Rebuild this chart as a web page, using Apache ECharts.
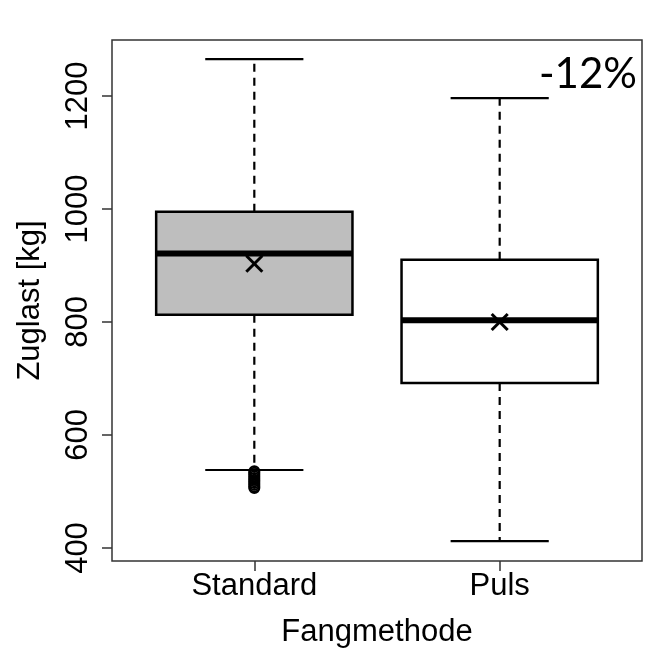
<!DOCTYPE html>
<html>
<head>
<meta charset="utf-8">
<script src="https://cdn.jsdelivr.net/npm/echarts@6/dist/echarts.min.js"></script>
<style>
  html, body { margin: 0; padding: 0; background: #fff; }
  #chart { width: 647px; height: 654px; }
</style>
</head>
<body>
<div id="chart"></div>
<script>
  // Zuglast je Fangmethode
  const categories = ['Standard', 'Puls'];
  const whiskerLow = [538, 412];
  const q1 = [813, 692];
  const median = [921, 803];
  const q3 = [995, 910];
  const whiskerHigh = [1265, 1196];
  const means = [903, 800];
  const boxFill = ['#bebebe', '#ffffff'];
  const outliersStandard = [536, 533, 530, 527, 524, 521, 518, 515, 512, 509, 506];
  const yTicks = [400, 600, 800, 1000, 1200];

  const chart = echarts.init(document.getElementById('chart'));
  const font = 'Liberation Sans';

  const boxData = categories.map((c, i) => [i + 1, whiskerLow[i], q1[i], median[i], q3[i], whiskerHigh[i], means[i]]);

  function renderBox(params, api) {
    const x = api.value(0);
    const lo = api.coord([x, api.value(1)]);
    const b1 = api.coord([x, api.value(2)]);
    const md = api.coord([x, api.value(3)]);
    const b3 = api.coord([x, api.value(4)]);
    const hi = api.coord([x, api.value(5)]);
    const mn = api.coord([x, api.value(6)]);
    const half = api.size([0.4, 0])[0];
    const cap = api.size([0.2, 0])[0];
    const cx = lo[0];
    const dash = { stroke: '#000', lineWidth: 2.2, lineDash: [8, 6] };
    const solid = { stroke: '#000', lineWidth: 2.2 };
    const m = 8;
    return {
      type: 'group',
      children: [
        { type: 'line', shape: { x1: cx, y1: b3[1], x2: cx, y2: hi[1] }, style: dash },
        { type: 'line', shape: { x1: cx, y1: b1[1], x2: cx, y2: lo[1] }, style: dash },
        { type: 'line', shape: { x1: cx - cap, y1: hi[1], x2: cx + cap, y2: hi[1] }, style: solid },
        { type: 'line', shape: { x1: cx - cap, y1: lo[1], x2: cx + cap, y2: lo[1] }, style: solid },
        {
          type: 'rect',
          shape: { x: cx - half, y: b3[1], width: half * 2, height: b1[1] - b3[1] },
          style: { fill: boxFill[params.dataIndex], stroke: '#000', lineWidth: 2.5 }
        },
        { type: 'line', shape: { x1: cx - half, y1: md[1], x2: cx + half, y2: md[1] }, style: { stroke: '#000', lineWidth: 6 } },
        { type: 'line', shape: { x1: cx - m, y1: mn[1] - m, x2: cx + m, y2: mn[1] + m }, style: { stroke: '#000', lineWidth: 3 } },
        { type: 'line', shape: { x1: cx - m, y1: mn[1] + m, x2: cx + m, y2: mn[1] - m }, style: { stroke: '#000', lineWidth: 3 } }
      ]
    };
  }

  const option = {
    animation: false,
    backgroundColor: '#fff',
    title: {
      text: '-12%',
      right: 10,
      top: 53,
      padding: 0,
      textStyle: { fontFamily: 'Lato', fontSize: 42, fontWeight: 'normal', color: '#000' }
    },
    grid: {
      left: 112, right: 5, top: 40, bottom: 93,
      show: true, borderColor: '#333', borderWidth: 1.5, backgroundColor: 'transparent'
    },
    xAxis: {
      type: 'value',
      min: 0.42,
      max: 2.58,
      name: 'Fangmethode',
      nameLocation: 'middle',
      nameGap: 56,
      nameTextStyle: { fontFamily: font, fontSize: 31, color: '#000' },
      axisLine: { show: false },
      splitLine: { show: false },
      axisTick: { show: true, length: 10, customValues: [1, 2], lineStyle: { color: '#333', width: 1.5 } },
      axisLabel: {
        customValues: [1, 2],
        margin: 10,
        fontFamily: font, fontSize: 31, color: '#000',
        formatter: v => categories[Math.round(v) - 1] || ''
      }
    },
    yAxis: {
      type: 'value',
      min: 377,
      max: 1299,
      name: 'Zuglast [kg]',
      nameLocation: 'middle',
      nameGap: 66,
      nameRotate: 90,
      nameTextStyle: { fontFamily: font, fontSize: 31, color: '#000' },
      axisLine: { show: false },
      splitLine: { show: false },
      axisTick: { show: true, length: 10, customValues: yTicks, lineStyle: { color: '#333', width: 1.5 } },
      axisLabel: {
        customValues: yTicks,
        rotate: 90,
        margin: 18,
        fontFamily: font, fontSize: 31, color: '#000',
        formatter: v => String(v)
      }
    },
    series: [
      {
        type: 'custom',
        renderItem: renderBox,
        data: boxData,
        encode: { x: 0, y: [1, 2, 3, 4, 5, 6] }
      },
      {
        type: 'scatter',
        symbol: 'circle',
        symbolSize: 10,
        data: outliersStandard.map(v => [1, v]),
        itemStyle: { color: 'rgba(0,0,0,0)', borderColor: '#000', borderWidth: 2, opacity: 1 }
      }
    ]
  };

  chart.setOption(option);
</script>
</body>
</html>
